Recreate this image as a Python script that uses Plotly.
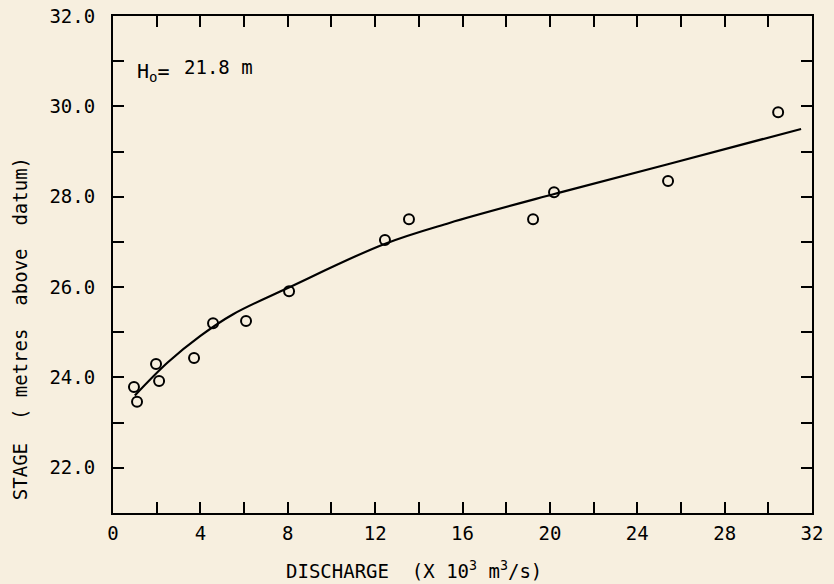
import plotly.graph_objects as go

# Observed points (discharge x10^3 m^3/s, stage m)
obs_q = [0.96, 1.10, 1.97, 2.11, 3.71, 4.58, 6.09, 8.06, 12.45, 13.55, 19.23, 20.19, 25.41, 30.45]
obs_h = [23.79, 23.46, 24.30, 23.92, 24.43, 25.20, 25.25, 25.91, 27.04, 27.50, 27.50, 28.10, 28.35, 29.87]

# Fitted rating curve
fit_q = [1.0, 2.5, 4.0, 5.5, 8.0, 12.4, 15.4, 20.2, 25.4, 31.5]
fit_h = [23.6, 24.33, 24.92, 25.40, 25.98, 26.95, 27.42, 28.06, 28.72, 29.5]

x_ticks = list(range(0, 33, 2))
x_labels = [str(v) if v % 4 == 0 else "" for v in x_ticks]
y_ticks = list(range(21, 33))
y_labels = [f"{v:.1f}" if v % 2 == 0 else "" for v in y_ticks]

bg = "#f7efdf"
font = "DejaVu Sans Mono"

fig = go.Figure()
fig.add_trace(go.Scatter(x=fit_q, y=fit_h, mode="lines",
                         line=dict(color="black", width=2.2, shape="spline", smoothing=1.0),
                         showlegend=False, hoverinfo="skip"))
fig.add_trace(go.Scatter(x=obs_q, y=obs_h, mode="markers",
                         marker=dict(symbol="circle-open", size=10, color="black", line=dict(width=2)),
                         showlegend=False))

axis_common = dict(showgrid=False, zeroline=False, showline=True, linecolor="black", linewidth=2,
                   mirror="ticks", ticks="inside", ticklen=11, tickwidth=2, tickcolor="black",
                   automargin=False,
                   tickfont=dict(family=font, size=19, color="black"))

fig.update_xaxes(range=[0, 32], tickvals=x_ticks, ticktext=x_labels, ticklabelstandoff=2, **axis_common)
fig.update_yaxes(range=[21, 32], tickvals=y_ticks, ticktext=y_labels, ticklabelstandoff=12, **axis_common)

fig.add_annotation(x=0.031, y=0.888, xref="paper", yref="paper", xanchor="left", yanchor="middle",
                   text="H<sub>o</sub>=", showarrow=False,
                   font=dict(family=font, size=20, color="black"))
fig.add_annotation(x=0.098, y=0.898, xref="paper", yref="paper", xanchor="left", yanchor="middle",
                   text="21.8 m", showarrow=False,
                   font=dict(family=font, size=19, color="black"))
fig.add_annotation(x=0.43, y=-0.143, xref="paper", yref="paper", xanchor="center", yanchor="bottom",
                   text="DISCHARGE  (X 10<sup>3</sup> m<sup>3</sup>/s)", showarrow=False,
                   font=dict(family=font, size=19, color="black"))
fig.add_annotation(x=-0.133, y=0.37, xref="paper", yref="paper", xanchor="center", yanchor="middle",
                   text="STAGE  ( metres  above  datum)", textangle=-90, showarrow=False,
                   font=dict(family=font, size=19, color="black"))

fig.update_layout(width=834, height=584, margin=dict(l=113, r=22, t=16, b=71),
                  paper_bgcolor=bg, plot_bgcolor=bg, showlegend=False)

fig.write_html("out.html", config={"displayModeBar": False},
               post_script="document.body.style.margin='0';document.body.style.background='%s';" % bg)
